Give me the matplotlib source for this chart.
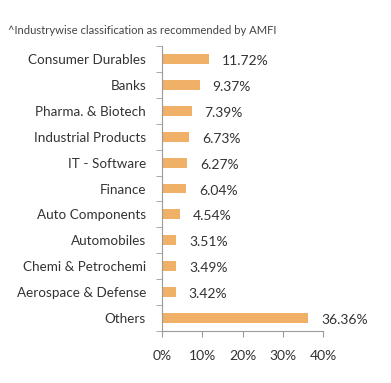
import numpy as np
import matplotlib.pyplot as plt
from matplotlib.ticker import FixedLocator

categories = ["Consumer Durables", "Banks", "Pharma. & Biotech", "Industrial Products",
              "IT - Software", "Finance", "Auto Components", "Automobiles",
              "Chemi & Petrochemi", "Aerospace & Defense", "Others"]
values = [11.72, 9.37, 7.39, 6.73, 6.27, 6.04, 4.54, 3.51, 3.49, 3.42, 36.36]
xticks = [0, 10, 20, 30, 40]

plt.rcParams['font.family'] = ['Lato', 'DejaVu Sans']
txt = '#333333'
grey = '#9a9a9a'

fig = plt.figure(figsize=(3.91, 3.83), dpi=100)
ax = fig.add_axes([162/391, 1 - 331/383, (323-162)/391, (331-46)/383])

y = np.arange(len(categories))
ax.barh(y, values, height=0.38, color='#F0B068')
for yi, v in zip(y, values):
    ax.text(v + 3.2, yi + 0.08, f"{v:.2f}%", va='center', ha='left',
            fontsize=10, color=txt)

ax.set_ylim(len(categories) - 0.5, -0.5)
ax.set_xlim(0, 40)
ax.set_xticks(xticks)
ax.set_xticklabels([f"{t}%" for t in xticks])
ax.set_yticks(y)
ax.set_yticklabels(categories)
ax.yaxis.set_minor_locator(FixedLocator(np.arange(-0.5, len(categories), 1)))
ax.tick_params(axis='y', which='major', length=0, pad=11.5, labelsize=9.7, labelcolor=txt)
ax.tick_params(axis='y', which='minor', length=4, color=grey)
ax.tick_params(axis='x', length=4, color=grey, labelsize=10, labelcolor=txt, pad=10)

for s in ['top', 'right']:
    ax.spines[s].set_visible(False)
for s in ['left', 'bottom']:
    ax.spines[s].set_color(grey)

fig.text(8/391, 1 - 30/383, "^Industrywise classification as recommended by AMFI",
         fontsize=8.1, color='#444444', va='center', ha='left')

fig.savefig('out.png', dpi=100)
